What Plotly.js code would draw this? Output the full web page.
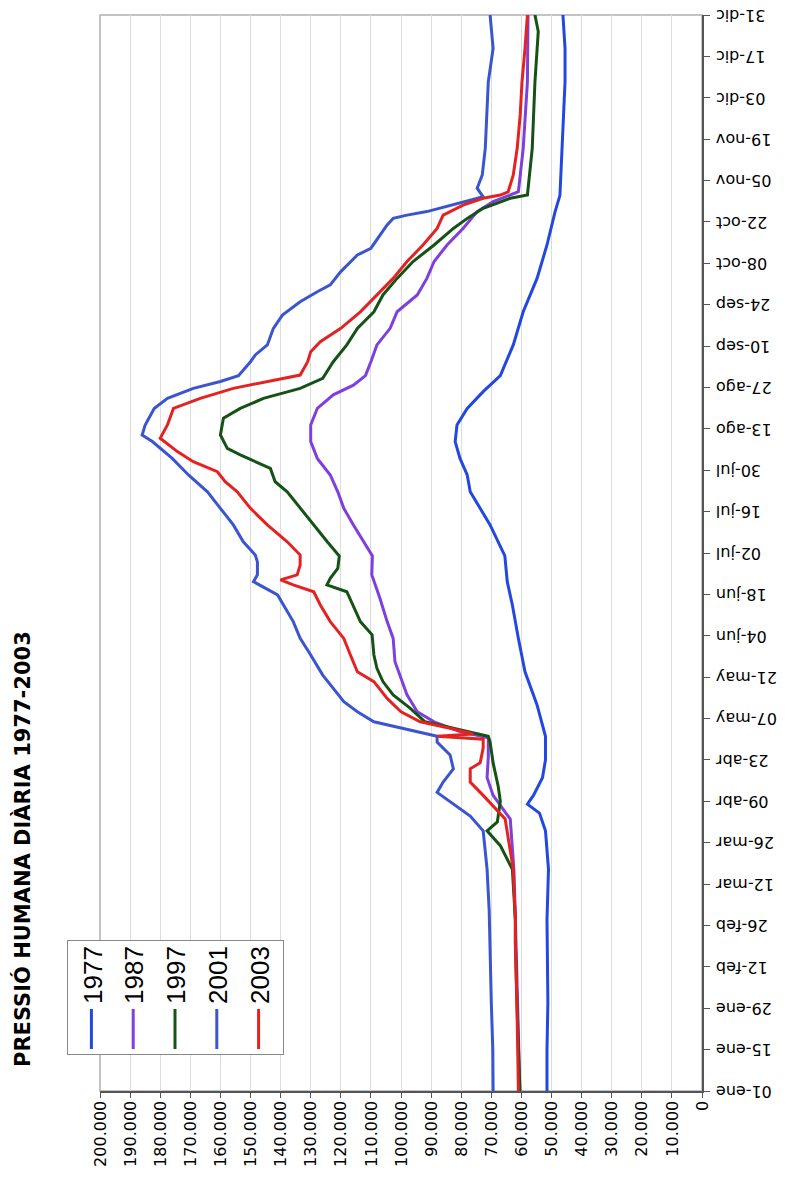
<!DOCTYPE html>
<html>
<head>
<meta charset="utf-8">
<script src="https://cdn.plot.ly/plotly-3.0.1.min.js"></script>
<style>
html,body{margin:0;padding:0;background:#fff;overflow:hidden;width:790px;height:1178px;}
#wrap{position:absolute;left:0;top:0;width:1178px;height:790px;transform-origin:0 0;transform:translate(0px,1178px) rotate(-90deg);}
#chart{width:1178px;height:790px;}
</style>
</head>
<body>
<div id="wrap"><div id="chart"></div></div>
<script>
// Day of year (0 = 01-ene) and daily human pressure (persons)
const tickDays = [0,14,28,42,56,70,84,98,112,126,140,154,168,182,196,210,224,238,252,266,280,294,308,322,336,350,364];
const tickLabels = ["01-ene","15-ene","29-ene","12-feb","26-feb","12-mar","26-mar","09-abr","23-abr","07-may","21-may","04-jun","18-jun","02-jul","16-jul","30-jul","13-ago","27-ago","10-sep","24-sep","08-oct","22-oct","05-nov","19-nov","03-dic","17-dic","31-dic"];

const days1977 = [0,14,30,50,58,75,88,94,97,100,106,112,120,130.6,141.8,153.1,164.4,172.3,181,191.5,202.7,208.4,214,219.7,225.3,230.9,236.6,242,252.4,263.6,274.9,286.2,297.5,303,318.9,341.4,352.7,364];
const vals1977 = [51500,51500,51200,51500,51500,51000,52000,54000,58000,56000,53000,52000,52000,54800,58800,61000,63000,64700,65500,70400,77000,78000,80400,82000,81400,78000,72700,67000,62700,59400,54800,51500,48800,47200,46500,45500,45500,46200];

const days1987 = [0,14,30,50,58,75,92,100,106,113,119.5,121.6,124.9,128.3,134,139.6,145.2,153.1,158.8,166.7,174.6,181,185.8,191.5,197.1,202.7,208.4,214,219.7,225.3,230.9,235.5,238.8,242,246.7,252.4,258,263.6,269.3,274.9,280.6,286.2,291.8,297.5,300.9,303.1,304.2,318.9,341.4,364];
const vals1987 = [60500,60800,61200,61800,62000,62500,63700,69400,71400,71000,71000,80400,89000,94600,98000,100000,102000,102600,104600,107000,109700,109500,112500,115800,119000,121000,123500,127800,130000,130000,127800,122500,115800,111800,110000,108000,103600,101300,94600,91400,89000,84700,79400,74700,69400,63700,61000,59400,58000,57800];

const days1997 = [0,14,30,50,58,75,83,88,91,98,103,111,118,120,124.9,129.5,134,138.5,143,147.5,154.3,158.8,164.4,168.9,171.2,173.4,176.8,181,185.8,191.5,197.1,202.7,206.1,210.6,215.2,217.4,221.9,227.6,230.9,234.3,237.7,241.1,246.7,252.4,258,263.6,269.3,274.9,280.6,286.2,291.8,295.2,298.6,302,303.1,318.9,341.4,358.4,364];
const vals1997 = [60500,61000,61500,62000,62000,63000,67000,71400,68000,67000,67700,69400,70400,71000,92000,97000,102600,106000,108000,109000,109600,113500,116000,118000,124600,123500,121000,120500,124500,129000,133500,137800,141800,143400,153400,157700,160000,159000,153400,145700,133500,126000,122500,118000,114500,109000,106000,101300,96000,89000,82600,78000,72700,63700,58000,56400,55500,54400,55500];

const days2001 = [0,14,30,50,61,75,88,93,101,104.5,109,113.7,118,120,122.7,124.9,128.3,131.7,136.2,140.7,147.5,153.1,158.8,164.4,167.8,172.3,174.6,179,181.3,185.8,191.5,197.1,202.7,208.4,214,219.7,221.9,225.3,230.9,234.3,237.7,240,242,246.7,249,252.4,258,262.5,267,270.4,272.7,277.2,282.8,285.1,289.6,293,295.2,296.3,297.5,299.2,300.9,302.5,305.4,309.9,318.9,330.2,341.4,352.7,364];
const vals2001 = [69400,69500,70000,70500,70700,71400,72700,77000,88000,86000,82600,83700,88000,88000,100000,109000,114500,119000,122500,126000,130000,133500,135800,139000,141000,149000,147700,147700,148400,152400,155700,160000,164300,170600,176000,182600,186000,185000,182000,177600,169000,160000,154000,150000,148400,144400,142400,139400,133500,127800,123500,120000,114500,110000,107000,104600,102600,98000,91400,84700,78000,72700,74700,73000,72000,71400,71000,69400,70400];

const days2003 = [0,14,30,50,58,75,92,100,104.5,109,111,116,119,120,120.8,122.7,124.9,128.3,132.8,138.5,141.8,147.5,153.1,158.8,164.4,168.9,171.2,172.9,174.6,177.9,181.3,185.8,191.5,197.1,202.7,206.1,209.5,212.9,216.3,220.8,225.3,230.9,234.3,237.7,240,242.2,246.7,250.1,253.5,258,263.6,269.3,274.9,280.6,286.2,291.8,296.3,299.7,302,303.1,304.2,309.9,318.9,330.2,341.4,352.7,364];
const vals2003 = [61000,61200,61500,62000,62000,62700,65400,72700,77000,77000,73700,72700,72700,88000,76000,83700,93600,100000,104600,109000,114500,116800,119000,123500,126800,129000,135800,140000,134500,133500,133500,137800,144400,150000,154400,158400,161000,169000,174300,180000,177600,175600,166700,155700,144400,133500,131000,130000,126800,120000,113500,108000,102600,98000,92700,88000,86000,79400,72700,67000,64400,62700,61400,60400,59800,58800,58000];

const seriesNames = ["1977","1987","1997","2001","2003"];
const seriesColors = ["#2347e0","#7f3fdc","#155215","#3a55cf","#e52222"];
const seriesDays = [days1977,days1987,days1997,days2001,days2003];
const seriesVals = [vals1977,vals1987,vals1997,vals2001,vals2003];

const traces = seriesNames.map((n,i)=>({
  type:'scatter', mode:'lines', name:n, x:seriesDays[i], y:seriesVals[i],
  line:{color:seriesColors[i], width:3}, legendgroup:'g'+i
}));

const layout = {
  width:1178, height:790,
  margin:{l:87, r:15, t:100, b:88},
  paper_bgcolor:'#fff', plot_bgcolor:'#fff',
  separators:',.',
  font:{family:'"DejaVu Sans", Verdana, sans-serif', color:'#000'},
  title:{text:'PRESSIÓ HUMANA DIÀRIA 1977-2003', x:111/1178, xanchor:'left', y:1-23/790, yanchor:'middle',
    font:{family:'"DejaVu Sans", Verdana, sans-serif', size:21, weight:'bold', color:'#000'}},
  showlegend:true,
  legend:{x:(123-87)/1076, y:(702-67)/602, xanchor:'left', yanchor:'top', bgcolor:'#fff',
    bordercolor:'#888', borderwidth:1, font:{size:26, family:'Arial, "Liberation Sans", sans-serif'},
    traceorder:'grouped', tracegroupgap:5, itemwidth:40},
  xaxis:{range:[0,364], tickvals:tickDays, ticktext:tickLabels, tickangle:-90,
    showgrid:false, zeroline:false, showline:true, linecolor:'#555', linewidth:1.5,
    ticks:'outside', ticklen:6, tickcolor:'#555', tickfont:{size:16}},
  yaxis:{range:[0,200000], dtick:10000, tickformat:',d', showgrid:true, gridcolor:'#dcdcdc', gridwidth:1,
    zeroline:false, showline:true, linecolor:'#555', linewidth:1.5,
    ticks:'outside', ticklen:5, tickcolor:'#555', tickfont:{size:16}},
  shapes:[{type:'rect', xref:'paper', yref:'paper', x0:0, x1:1, y0:0, y1:1, line:{color:'#b0b0b0', width:1.5}, layer:'below'}]
};

Plotly.newPlot('chart', traces, layout, {displayModeBar:false, staticPlot:true});
</script>
</body>
</html>
